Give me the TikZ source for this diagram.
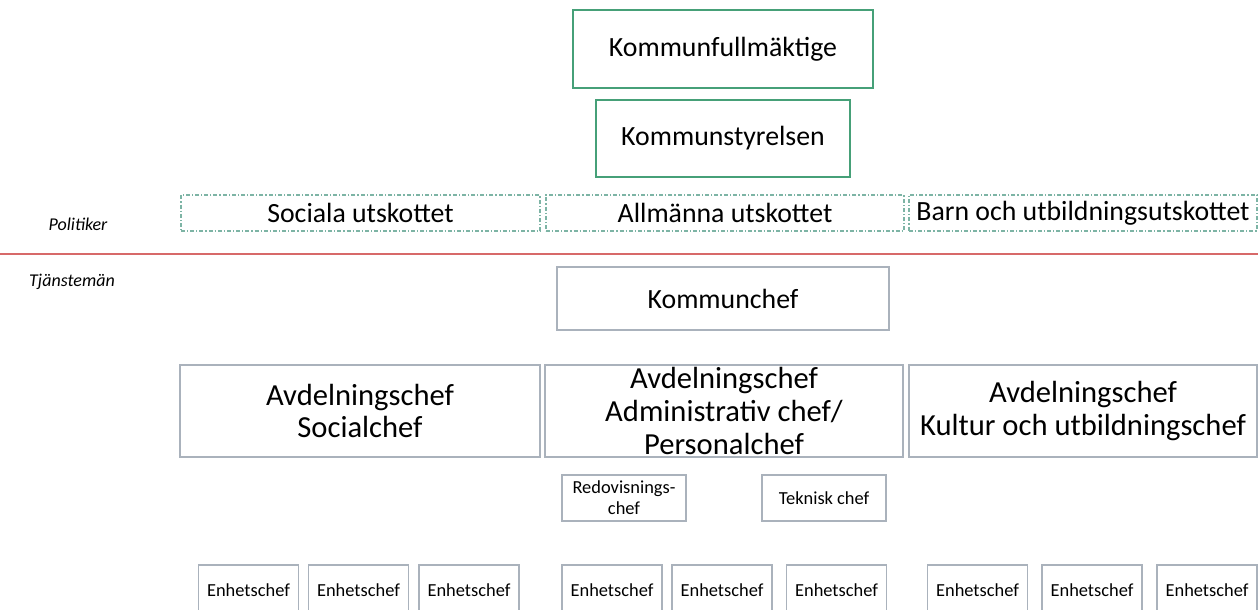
\documentclass[tikz,border=0pt]{standalone}
\usepackage{fontspec}
\setmainfont{Carlito}
\definecolor{boardgreen}{RGB}{70,160,120}
\definecolor{cmtgreen}{RGB}{125,180,165}
\definecolor{staffgrey}{RGB}{170,178,188}
\definecolor{divred}{RGB}{215,105,105}
\tikzset{%
  % Specifications for style of nodes:
          base/.style = {rectangle, draw=staffgrey, line width=0.6pt,
                         text centered, align=center, inner sep=0pt},
     board/.style = {base, draw=boardgreen, line width=0.8pt,
                     font=\fontsize{13.9}{16}\selectfont},
 committee/.style = {base, draw=cmtgreen, dash pattern=on 2pt off 1pt on 0.6pt off 1pt,
                     minimum height=18pt, font=\fontsize{13.9}{16}\selectfont},
      head/.style = {base, font=\fontsize{13.9}{16}\selectfont},
     dept/.style = {base, minimum height=46pt, font=\fontsize{15.3}{16.3}\selectfont},
      sub/.style = {base, minimum width=62pt, minimum height=23pt,
                    font=\fontsize{9.2}{10.5}\selectfont},
     unit/.style = {base, minimum width=50pt, minimum height=25pt,
                    font=\fontsize{9.2}{10.5}\selectfont},
    sidenote/.style = {font=\fontsize{9}{10.5}\selectfont\itshape},
}
\begin{document}
\begin{tikzpicture}[x=0.5pt, y=-0.5pt]
\useasboundingbox (0,0) rectangle (1258,610);
% Political level
\node (fullm)   [board, minimum width=150pt, minimum height=39pt] at (723,49)   {Kommunfullmäktige};
\node (styr)    [board, minimum width=127pt, minimum height=38.5pt] at (723,138.5) {Kommunstyrelsen};
\node (social)  [committee, minimum width=179.5pt] at (360.5,213) {Sociala utskottet};
\node (allm)    [committee, minimum width=179pt]   at (725,213)   {Allmänna utskottet};
\node (barn)    [committee, minimum width=174pt]   at (1083,213)  {Barn och utbildningsutskottet};
\node (pol)     [sidenote] at (78,224) {Politiker};
\node (tjm)     [sidenote] at (72,282) {Tjänstemän};
% Dividing line
\coordinate (divl) at (0,254);
\coordinate (divr) at (1258,254);
\draw[divred, line width=1pt] (divl) -- (divr);
% Officials
\node (kchef)   [head, minimum width=166pt, minimum height=31.5pt] at (723,298.5) {Kommunchef};
\node (avdsoc)  [dept, minimum width=180pt] at (360,411)  {Avdelningschef\\Socialchef};
\node (avdadm)  [dept, minimum width=179pt] at (724,411)  {Avdelningschef\\Administrativ chef/\\Personalchef};
\node (avdkult) [dept, minimum width=174pt] at (1083,411) {Avdelningschef\\Kultur och utbildningschef};
\node (redov)   [sub] at (624,498) {Redovisnings-\\chef};
\node (tekn)    [sub] at (824,498) {Teknisk chef};
% Unit managers
\foreach \ux [count=\i] in {248.5,358.5,469,612,722,836.5,977.5,1092,1207}
  \node (enh\i) [unit] at (\ux,590) {Enhetschef};
\end{tikzpicture}
\end{document}
